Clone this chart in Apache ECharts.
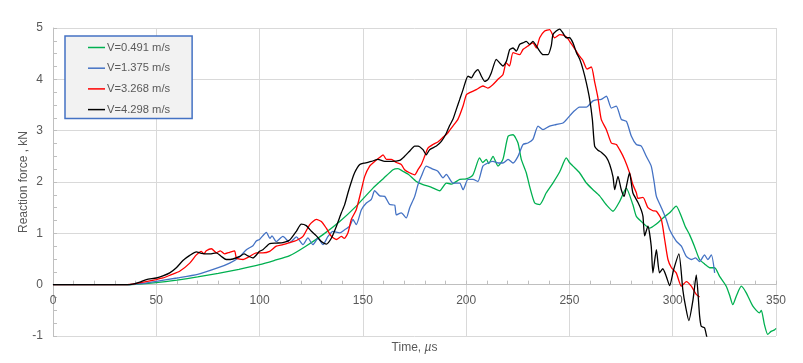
<!DOCTYPE html>
<html>
<head>
<meta charset="utf-8">
<script src="https://cdn.jsdelivr.net/npm/echarts@6.0.0/dist/echarts.min.js"></script>
<style>
  html, body { margin: 0; padding: 0; background: #fff; }
  #chart { width: 803px; height: 363px; }
</style>
</head>
<body>
<div id="chart"></div>
<script>
// 数据：[时间 µs, 反力 kN]
var seriesNames = ['V=0.491 m/s', 'V=1.375 m/s', 'V=3.268 m/s', 'V=4.298 m/s'];
var seriesColors = ['#00b050', '#4472c4', '#ff0000', '#000000'];

var v0491 = [[0,0],[35,0],[40,0.005],[50,0.04],[60,0.09],[70,0.15],[80,0.22],[90,0.3],[100,0.39],[107,0.47],[114.6,0.565],[122,0.74],[130.7,0.975],[138.8,1.23],[146.8,1.53],[154.9,1.88],[160,2.07],[164.6,2.24],[167,2.26],[169.4,2.21],[172,2.15],[175.9,2.01],[179.1,1.95],[183,1.9],[187.2,1.83],[190.4,1.98],[193,1.96],[196.9,2.05],[200,2.06],[203.3,2.14],[206.5,2.47],[208,2.38],[209.8,2.44],[211,2.36],[213,2.5],[215.4,2.31],[217.8,2.44],[220.3,2.89],[222.7,2.92],[225.1,2.76],[226.7,2.44],[229.1,2.18],[230.7,1.92],[233.2,1.59],[235.6,1.56],[238.8,1.79],[242,1.98],[245.3,2.2],[248.5,2.47],[250,2.38],[251.7,2.31],[254.9,2.18],[258.2,1.98],[261.4,1.85],[264.6,1.73],[268,1.55],[271.1,1.43],[274.3,1.62],[277.5,1.88],[280.7,1.56],[282.4,1.33],[285.6,1.2],[288.8,1.1],[292.1,1.18],[295.3,1.3],[298.5,1.4],[301.7,1.53],[304.2,1.33],[306,1.14],[308.2,0.97],[310.5,0.75],[313,0.49],[315.5,0.4],[317.9,0.33],[320.3,0.33],[322.7,0.16],[325.9,-0.03],[327.5,-0.2],[329.1,-0.39],[331,-0.2],[333.2,-0.03],[335.6,-0.16],[338.8,-0.42],[342,-0.55],[342.9,-0.5],[344.4,-0.78],[346,-0.97],[347.6,-0.91],[349.3,-0.88],[350,-0.85]];

var v1375 = [[0,0],[35,0],[40,0.01],[45,0.03],[50,0.065],[60,0.13],[70,0.2],[80,0.33],[85.5,0.42],[90,0.53],[93.6,0.68],[96.8,0.76],[98.4,0.85],[100,0.88],[101.5,0.95],[103.3,1.02],[105,0.9],[106,0.95],[108.1,0.84],[111.3,0.94],[114.6,0.82],[117.8,0.93],[121,0.78],[123.4,0.91],[125.8,0.78],[128.3,0.9],[130.7,0.78],[133.1,0.94],[135.5,1.04],[138.8,1.01],[141.2,1.07],[143.6,1.14],[145.2,1.27],[146.8,1.17],[149.3,1.46],[151.7,1.59],[154.1,1.66],[155.7,1.83],[158.2,1.73],[160.6,1.72],[163,1.56],[165.4,1.55],[166.2,1.36],[168.6,1.4],[171,1.3],[172.6,1.49],[175.1,1.72],[176.7,1.95],[178.3,2.11],[180.7,2.31],[183.9,2.25],[186.3,2.21],[188.8,2.08],[190.4,2.15],[193.6,1.98],[196.9,1.98],[198.5,1.85],[200.9,2.05],[203.3,2.05],[205.7,2.01],[208.1,2.31],[210.5,2.37],[213,2.4],[215.4,2.37],[217.8,2.37],[220.3,2.44],[222.7,2.37],[225.1,2.5],[227.5,2.73],[229.9,2.76],[232.3,2.83],[234.8,3.09],[237.2,3.02],[240.4,3.09],[243.6,3.12],[246.9,3.15],[249.3,3.25],[251.7,3.36],[254.9,3.46],[258.2,3.46],[261.4,3.58],[263,3.6],[265.4,3.61],[267.9,3.67],[270.3,3.44],[272.7,3.48],[275.1,3.22],[277.6,3.18],[280,2.89],[282.4,2.73],[284.8,2.7],[287.2,2.5],[289.6,2.31],[291,2.0],[292.1,1.72],[294.5,1.5],[296.9,1.27],[298.5,1.07],[301.7,0.85],[304.2,0.75],[306.6,0.55],[309,0.49],[311,0.52],[313,0.45],[315.4,0.58],[317,0.49],[318.7,0.58],[320.3,0.23]];

var v3268 = [[0,0],[35,0],[40,0.02],[45,0.06],[50,0.1],[53.2,0.13],[57,0.19],[61.3,0.26],[66.2,0.42],[69.4,0.58],[71.8,0.65],[73,0.6],[74.2,0.66],[76.7,0.7],[79.1,0.62],[81,0.66],[83,0.6],[85.5,0.63],[87.9,0.66],[88.8,0.52],[92,0.49],[95.2,0.55],[98.4,0.62],[101.6,0.62],[104.9,0.65],[108.1,0.75],[111.3,0.78],[114.6,0.82],[117.8,0.86],[121,0.94],[124.3,1.17],[127.5,1.27],[129.9,1.23],[132.3,1.1],[134.8,0.94],[137.2,0.88],[139.6,0.94],[141,0.9],[142.8,1.01],[144.4,1.27],[146.8,1.46],[149.3,1.85],[150.9,2.11],[153.3,2.31],[155.7,2.4],[158.2,2.48],[159.8,2.53],[161.4,2.44],[163.8,2.44],[166.2,2.38],[168.6,2.34],[170.2,2.24],[172.6,2.18],[175.1,2.14],[176.7,2.24],[178.3,2.34],[179.9,2.5],[181.5,2.66],[183.9,2.73],[186.3,2.78],[188.8,2.87],[191.2,2.96],[193.6,3.09],[196,3.22],[198.5,3.48],[200.1,3.7],[201.7,3.74],[204.9,3.8],[208.1,3.87],[210.5,3.83],[213,3.9],[215.4,4.0],[217.8,4.09],[219.4,4.32],[221,4.26],[222.7,4.52],[225.9,4.48],[227.5,4.58],[229.9,4.65],[232.3,4.71],[234,4.61],[235.6,4.81],[238,4.94],[240.4,4.97],[242.8,4.81],[245.3,4.87],[248.5,4.83],[250.1,4.74],[252.5,4.6],[254.9,4.45],[256.5,4.37],[258.5,4.2],[260.6,4.24],[262.2,3.95],[263.8,3.64],[265.4,3.22],[267.9,3.02],[270.3,2.76],[272.7,2.73],[274.3,2.63],[276.7,2.44],[279.1,2.18],[280.7,1.95],[282.4,1.79],[283.2,1.68],[285.6,1.7],[288,1.5],[290.4,1.44],[292.1,1.43],[294.5,1.27],[296.1,0.88],[297.7,0.49],[299.4,0.33],[301.7,0.23],[304.2,-0.03],[306.6,0.06],[309,-0.03],[311.4,-0.19],[313,-0.24]];

var v4298 = [[0,0],[35,0],[38.7,0.01],[42,0.05],[45.2,0.1],[50,0.13],[53.2,0.17],[56.5,0.23],[59.7,0.33],[62.9,0.47],[66.2,0.57],[69.4,0.64],[71.8,0.61],[75.9,0.6],[79.1,0.62],[81.5,0.55],[83.9,0.49],[87.1,0.5],[90.4,0.55],[92.5,0.6],[94.4,0.56],[96.8,0.52],[100,0.65],[101.6,0.68],[104.9,0.8],[108.1,0.81],[111.3,0.82],[114.6,0.87],[117.8,1.04],[120.2,1.18],[122.6,1.15],[125.1,1.04],[127.5,0.95],[129.9,0.84],[132.3,0.79],[134.8,0.91],[137.2,1.14],[139.6,1.4],[141.2,1.56],[142.8,1.79],[144.4,2.0],[146,2.18],[148.5,2.34],[150.9,2.37],[154.1,2.4],[157.3,2.44],[160.6,2.4],[163.8,2.4],[167.8,2.42],[170.2,2.5],[172.6,2.6],[175.1,2.7],[176.7,2.7],[179.1,2.63],[180.7,2.53],[182.3,2.63],[185.6,2.7],[188,2.79],[190.4,2.95],[192,3.1],[193.6,3.22],[195.2,3.41],[196.9,3.61],[198.5,3.8],[200.9,4.06],[202.5,4.03],[204.1,4.13],[205.7,4.19],[207.4,4.06],[209,3.96],[210.6,4.0],[212.2,4.13],[214.6,4.39],[216.2,4.32],[217.8,4.26],[219.5,4.35],[221.1,4.58],[222.7,4.61],[224.3,4.55],[225.9,4.68],[227.5,4.71],[229.1,4.74],[230.7,4.68],[232.3,4.74],[234,4.65],[235.6,4.55],[237.2,4.48],[239.6,4.48],[241.2,4.65],[242,4.87],[243.6,4.94],[245.3,4.98],[246.9,4.9],[248.5,4.81],[250.1,4.81],[251.7,4.71],[253.4,4.52],[255,4.39],[256.6,4.19],[258.2,3.93],[259.8,3.61],[261.1,3.22],[262.2,2.7],[263.8,2.62],[265.4,2.58],[267.9,2.48],[269.5,2.34],[271.1,2.1],[271.9,1.85],[273.5,2.11],[275.1,1.85],[276.5,1.72],[277.6,1.92],[279.1,2.18],[280.7,1.79],[283.2,1.6],[284.8,1.45],[285.6,1.33],[286.4,0.95],[288,1.14],[289.6,0.75],[290.4,0.23],[292.1,0.68],[293.6,0.23],[295.2,0.31],[296.9,0.16],[298.5,-0.02],[300.5,0.3],[303,0.6],[304.9,-0.1],[306.2,-0.42],[307.8,-0.7],[309.8,-0.3],[311.4,0.19],[313,-0.6],[313.8,-0.81],[315.4,-0.84],[316.4,-1.0],[317,-1.1]];

var seriesData = [v0491, v1375, v3268, v4298];

var yMin = -1, yMax = 5;

var chart = echarts.init(document.getElementById('chart'));

var textGray = '#595959';
var gridGray = '#d9d9d9';
var gridTop = 28, gridBottom = 27;
// x 轴放在 y=0 处（向上偏移一个单位）
var unitPx = (363 - gridTop - gridBottom) / (yMax - yMin);

var option = {
  animation: false,
  backgroundColor: '#fff',
  textStyle: { fontFamily: 'Liberation Sans' },
  grid: { left: 53, right: 27, top: gridTop, bottom: gridBottom, containLabel: false, outerBoundsMode: 'none' },
  legend: {
    orient: 'vertical',
    left: 65,
    top: 36,
    padding: [4.5, 22, 2, 23],
    icon: 'rect',
    itemWidth: 17,
    itemHeight: 1.5,
    itemGap: 6.7,
    backgroundColor: '#f2f2f2',
    borderColor: '#4472c4',
    borderWidth: 1.5,
    textStyle: { color: textGray, fontSize: 11.2, lineHeight: 14, padding: [0, 0, 0, -3] },
    data: seriesNames
  },
  xAxis: {
    type: 'value',
    min: 0,
    max: 350,
    interval: 50,
    offset: -unitPx * (0 - yMin),
    name: '{a|Time, }{b|µ}{a|s}',
    nameLocation: 'middle',
    nameGap: 57,
    nameMoveOverlap: false,
    nameTextStyle: {
      rich: {
        a: { color: textGray, fontSize: 12, fontFamily: 'Liberation Sans' },
        b: { color: textGray, fontSize: 12, fontFamily: 'Liberation Sans', fontStyle: 'italic' }
      }
    },
    axisLine: { onZero: false, lineStyle: { color: '#bfbfbf', width: 1 } },
    axisTick: { show: true, inside: true, length: 4, lineStyle: { color: '#bfbfbf' } },
    minorTick: { show: true, splitNumber: 5, length: 4, lineStyle: { color: '#bfbfbf' } },
    axisLabel: { color: textGray, fontSize: 12, margin: 10 },
    splitLine: { show: true, lineStyle: { color: gridGray, width: 1 } }
  },
  yAxis: {
    type: 'value',
    min: yMin,
    max: yMax,
    interval: 1,
    name: 'Reaction force , kN',
    nameLocation: 'middle',
    nameGap: 23,
    nameMoveOverlap: false,
    nameTextStyle: { color: textGray, fontSize: 12 },
    axisLine: { show: true, lineStyle: { color: '#bfbfbf', width: 1 } },
    axisTick: { show: true, inside: true, length: 4, lineStyle: { color: '#bfbfbf' } },
    minorTick: { show: true, splitNumber: 4, length: 4, lineStyle: { color: '#bfbfbf' } },
    axisLabel: { color: textGray, fontSize: 12, margin: 10 },
    splitLine: { show: true, lineStyle: { color: gridGray, width: 1 } }
  },
  series: seriesNames.map(function (name, i) {
    return {
      name: name,
      type: 'line',
      data: seriesData[i],
      symbol: 'none',
      showSymbol: false,
      smooth: 0.2,
      clip: true,
      lineStyle: { color: seriesColors[i], width: 1.3 },
      itemStyle: { color: seriesColors[i] },
      z: 2 + i
    };
  })
};

chart.setOption(option);
</script>
</body>
</html>
